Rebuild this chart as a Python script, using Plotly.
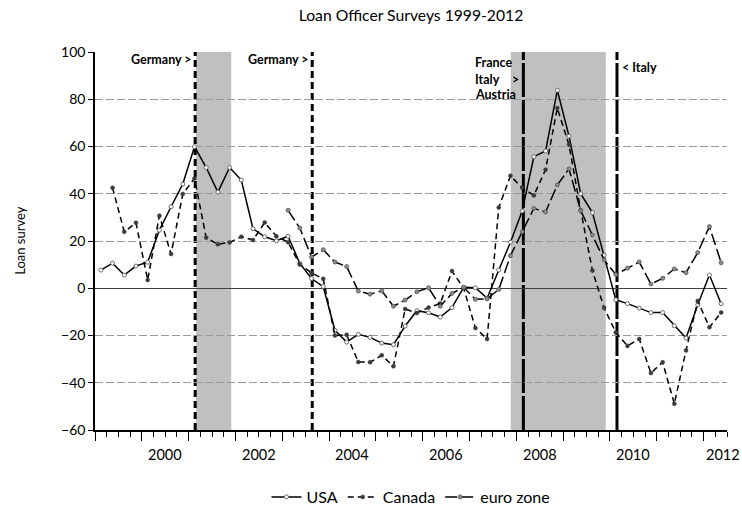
import plotly.graph_objects as go

# Quarterly survey periods, 1999Q1 - 2012Q2
start_year = 1999
n_quarters = 54
quarters = [f"{start_year + i // 4}Q{i % 4 + 1}" for i in range(n_quarters)]

# Net percentage of loan officers reporting tighter standards
usa = [7.7, 10.6, 5.6, 9.4, 11.0, 24.6, 34.5, 44.1, 59.9, 51.1,
       40.7, 51.1, 45.8, 25.2, 21.8, 20.1, 22.0, 10.5, 4.1, 0.7,
       -17.8, -22.8, -19.5, -20.8, -23.2, -23.9, -16.0, -9.5, -10.4, -12.2,
       -8.2, 0.4, 0.2, -4.2, 7.7, 19.5, 32.7, 55.7, 58.1, 83.8,
       64.4, 40.0, 32.0, 14.0, -4.9, -6.5, -8.4, -10.3, -10.3, -15.9,
       -21.1, -7.0, 5.6, -6.6]

canada = [None, 42.5, 23.9, 27.7, 3.5, 30.7, 14.5, 39.9, 46.5, 21.4,
          18.6, 19.4, 21.8, 20.4, 27.8, 22.0, 19.5, 10.0, 6.5, 4.0,
          -20.0, -19.7, -31.2, -31.3, -28.4, -33.0, -8.8, -10.5, -8.2, -6.5,
          7.3, 0.0, -16.8, -21.5, 34.2, 47.6, 42.5, 39.3, 50.2, 76.3,
          60.7, 33.0, 7.5, -8.3, -18.7, -24.4, -21.5, -35.9, -31.3, -48.9,
          -26.3, -5.4, -16.5, -10.3]

euro_zone = [None] * 16 + [
    33.0, 25.5, 13.2, 16.3,
    11.1, 9.2, -1.2, -2.5, -1.1, -7.6, -5.0, -1.5, 0.2, -7.6,
    -2.2, 0.4, -4.7, -4.5, -0.5, 13.8, 23.9, 33.8, 32.3, 43.7,
    50.5, 32.8, 22.5, 12.0, 5.8, 8.5, 11.1, 1.8, 4.2, 8.2,
    6.6, 15.1, 26.1, 10.8]

year_labels = [2000, 2002, 2004, 2006, 2008, 2010, 2012]
y_ticks = [-60, -40, -20, 0, 20, 40, 60, 80, 100]
grid_values = [-40, -20, 20, 40, 60, 80]

# Recession periods (decimal years)
shaded_periods = [(2001.16, 2001.91), (2007.88, 2009.91)]
# Policy event dates (decimal years)
germany_events = [2001.14, 2003.64]
other_events = [2008.15, 2010.15]


def quarter_mid(q):
    year, n = q.split("Q")
    return int(year) + (int(n) - 0.5) / 4


x = [quarter_mid(q) for q in quarters]

font_family = "Lato"

fig = go.Figure()

fig.add_trace(go.Scatter(
    x=x, y=usa, name="USA", mode="lines+markers",
    line=dict(color="black", width=1.5),
    marker=dict(symbol="circle", size=4, color="white",
                line=dict(color="#6b6b6b", width=1)),
))
fig.add_trace(go.Scatter(
    x=x, y=canada, name="Canada", mode="lines+markers",
    line=dict(color="black", width=1.5, dash="6px,4px"),
    marker=dict(symbol="circle", size=4, color="#3a3a3a",
                line=dict(color="#3a3a3a", width=0.5)),
))
fig.add_trace(go.Scatter(
    x=x, y=euro_zone, name="euro zone", mode="lines+markers",
    line=dict(color="black", width=1.5, dash="12px,4px"),
    marker=dict(symbol="circle", size=4, color="#8c8c8c",
                line=dict(color="#555555", width=0.8)),
))
# carrier for the gridline axis
fig.add_trace(go.Scatter(x=[None], y=[None], yaxis="y2", showlegend=False,
                         hoverinfo="skip"))

shapes = []
for x0, x1 in shaded_periods:
    shapes.append(dict(type="rect", xref="x", yref="paper", x0=x0, x1=x1,
                       y0=0, y1=1, fillcolor="#c0c0c0", line=dict(width=0),
                       layer="below"))
for xe in germany_events:
    shapes.append(dict(type="line", xref="x", yref="paper", x0=xe, x1=xe,
                       y0=0, y1=1, line=dict(color="black", width=3, dash="7px,4px"),
                       layer="between"))
for xe in other_events:
    shapes.append(dict(type="line", xref="x", yref="paper", x0=xe, x1=xe,
                       y0=0, y1=1, line=dict(color="black", width=3, dash="34px,3px"),
                       layer="between"))

bold = dict(family=font_family, size=12.5, color="black")
annotations = [
    dict(text="<b>Germany &gt;</b>", x=germany_events[0], xref="x", y=0.98, yref="paper",
         xanchor="right", yanchor="middle", showarrow=False, font=bold, xshift=-1),
    dict(text="<b>Germany &gt;</b>", x=germany_events[1], xref="x", y=0.98, yref="paper",
         xanchor="right", yanchor="middle", showarrow=False, font=bold, xshift=-1),
    dict(text="<b>France</b>", x=2007.08, xref="x", y=0.973, yref="paper",
         xanchor="left", yanchor="middle", showarrow=False, font=bold),
    dict(text="<b>Italy</b>", x=2007.08, xref="x", y=0.927, yref="paper",
         xanchor="left", yanchor="middle", showarrow=False, font=bold),
    dict(text="<b>Austria</b>", x=2007.08, xref="x", y=0.887, yref="paper",
         xanchor="left", yanchor="middle", showarrow=False, font=bold),
    dict(text="<b>&gt;</b>", x=other_events[0], xref="x", y=0.927, yref="paper",
         xanchor="right", yanchor="middle", showarrow=False, font=bold, xshift=-2),
    dict(text="<b>&lt; Italy</b>", x=other_events[1], xref="x", y=0.96, yref="paper",
         xanchor="left", yanchor="middle", showarrow=False, font=bold, xshift=3),
    dict(text="Loan survey", x=-0.119, xref="paper", y=0.5, yref="paper",
         textangle=-90, xanchor="center", yanchor="middle", showarrow=False,
         font=dict(family=font_family, size=13, color="black")),
]
for yr in year_labels:
    # the last label sits at the right edge, nudge it inside the page
    shift = -4 if yr == year_labels[-1] else 0
    annotations.append(dict(text=str(yr), x=yr + 0.5, xref="x", y=-0.066, yref="paper",
                            xanchor="center", yanchor="middle", showarrow=False,
                            xshift=shift,
                            font=dict(family=font_family, size=14.5, color="black")))

fig.update_layout(
    width=742, height=514,
    margin=dict(l=95, r=15, t=52, b=84),
    paper_bgcolor="white", plot_bgcolor="white",
    font=dict(family=font_family, size=14, color="black"),
    title=dict(text="Loan Officer Surveys 1999-2012", x=0.5, xref="paper", xanchor="center",
               y=1 - 16 / 514, yref="container", yanchor="middle",
               font=dict(family=font_family, size=15.7, color="black")),
    legend=dict(orientation="h", x=0.5, xref="paper", xanchor="center",
                y=1 - 497 / 514, yref="container", yanchor="middle",
                font=dict(family=font_family, size=16, color="black")),
    xaxis=dict(range=[1999, 2012.5], showgrid=False, zeroline=False,
               showline=True, linecolor="black", linewidth=1.5,
               tickmode="linear", tick0=1999, dtick=1, ticks="outside",
               ticklen=9, tickwidth=1.2, tickcolor="black", showticklabels=False,
               minor=dict(tickmode="linear", tick0=1999, dtick=0.25, ticks="outside",
                          ticklen=5, tickwidth=1, tickcolor="black", showgrid=False)),
    yaxis=dict(range=[-60, 100], tickmode="array", tickvals=y_ticks, ticks="outside",
               ticklen=5, tickwidth=1.2, tickcolor="black", showline=True,
               linecolor="black", linewidth=1.5, showgrid=False, zeroline=True,
               zerolinecolor="#404040", zerolinewidth=1.3,
               tickfont=dict(family=font_family, size=14, color="black")),
    yaxis2=dict(overlaying="y", range=[-60, 100], tickmode="array", tickvals=grid_values,
                showgrid=True, gridcolor="#9a9a9a", gridwidth=1.2, griddash="8px,3px",
                showticklabels=False, ticks="", showline=False, zeroline=False),
    shapes=shapes,
    annotations=annotations,
)

fig.write_html("out.html")
